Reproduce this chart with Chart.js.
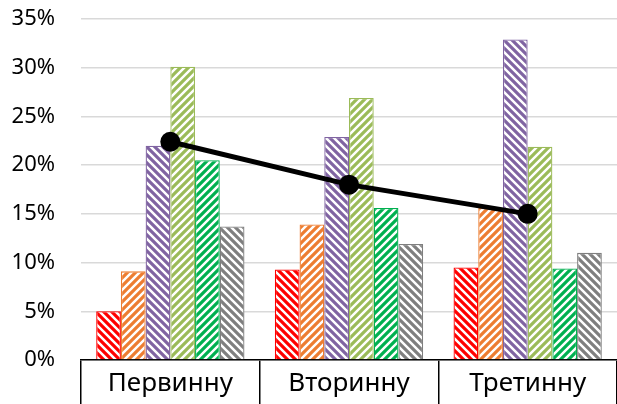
<!DOCTYPE html>
<html>
<head>
<meta charset="utf-8">
<script src="https://cdn.jsdelivr.net/npm/chart.js@4/dist/chart.umd.min.js"></script>
<style>
  html, body { margin: 0; padding: 0; background: #fff; }
  #wrap { width: 617px; height: 404px; }
</style>
</head>
<body>
<div id="wrap"><canvas id="chart" width="617" height="404"></canvas></div>
<script>
// data (percent)
let categories = ["Первинну", "Вторинну", "Третинну"]
let red_vals = [5.0, 9.3, 9.5]
let orange_vals = [9.1, 13.9, 15.6]
let purple_vals = [22.0, 22.9, 32.9]
let lime_vals = [30.1, 26.9, 21.9]
let green_vals = [20.5, 15.6, 9.4]
let gray_vals = [13.7, 11.9, 11.0]
let line_vals = [22.4, 18.0, 15.0]
let y_ticks = [0, 5, 10, 15, 20, 25, 30, 35]

// hatch fill, dir "/" or "\"
function hatch(color, dir) {
    let s = 8
    let c = document.createElement("canvas")
    c.width = s
    c.height = s
    let g = c.getContext("2d")
    g.fillStyle = "#fff"
    g.fillRect(0, 0, s, s)
    g.strokeStyle = color
    g.lineWidth = 3.2
    g.beginPath()
    if (dir == "/") {
        g.moveTo(0, s); g.lineTo(s, 0)
        g.moveTo(-2, 2); g.lineTo(2, -2)
        g.moveTo(s - 2, s + 2); g.lineTo(s + 2, s - 2)
    } else {
        g.moveTo(0, 0); g.lineTo(s, s)
        g.moveTo(-2, s - 2); g.lineTo(2, s + 2)
        g.moveTo(s - 2, -2); g.lineTo(s + 2, 2)
    }
    g.stroke()
    return g.createPattern(c, "repeat")
}

function barSet(vals, color, dir) {
    return {
        type: "bar",
        data: vals,
        backgroundColor: hatch(color, dir),
        borderColor: color,
        borderWidth: 1.3,
        borderSkipped: "bottom",
        order: 1
    }
}

let ctx = document.querySelector("#chart").getContext("2d")

let chart = new Chart(ctx, {
    data: {
        labels: categories,
        datasets: [
            {
                type: "line",
                data: line_vals,
                borderColor: "#000",
                backgroundColor: "#000",
                borderWidth: 5,
                pointRadius: 10,
                pointBackgroundColor: "#000",
                pointBorderWidth: 0,
                order: 0
            },
            barSet(red_vals, "#ff0000", "\\"),
            barSet(orange_vals, "#ed7d31", "/"),
            barSet(purple_vals, "#8064a2", "\\"),
            barSet(lime_vals, "#9bbb59", "/"),
            barSet(green_vals, "#00b050", "/"),
            barSet(gray_vals, "#7f7f7f", "\\")
        ]
    },
    options: {
        responsive: false,
        animation: false,
        layout: { autoPadding: false, padding: { top: 19, right: 0, left: 0, bottom: 0 } },
        datasets: {
            bar: { categoryPercentage: 0.83, barPercentage: 1 }
        },
        plugins: {
            legend: { display: false },
            tooltip: { enabled: false }
        },
        scales: {
            x: {
                offset: true,
                grid: {
                    offset: true,
                    drawOnChartArea: false,
                    drawTicks: true,
                    tickLength: 44,
                    color: "#000",
                    lineWidth: 1.5
                },
                border: { display: true, color: "#000", width: 1.5 },
                ticks: {
                    color: "#000",
                    padding: -36,
                    font: { family: "'Noto Sans'", size: 26 }
                },
                afterFit: (s) => {
                    s.height = 44
                    s.paddingLeft = 0
                    s.paddingRight = 0
                }
            },
            y: {
                min: 0,
                max: 35,
                afterBuildTicks: (s) => { s.ticks = y_ticks.map(v => ({ value: v })) },
                grid: { color: "#d9d9d9", lineWidth: 1.5, drawTicks: false },
                border: { display: false },
                ticks: {
                    color: "#000",
                    padding: 26,
                    font: { family: "'Noto Sans'", size: 22 },
                    callback: (v) => v + "%"
                },
                afterFit: (s) => {
                    s.width = 81
                    s.paddingTop = 0
                    s.paddingBottom = 0
                }
            }
        }
    }
})
</script>
</body>
</html>
